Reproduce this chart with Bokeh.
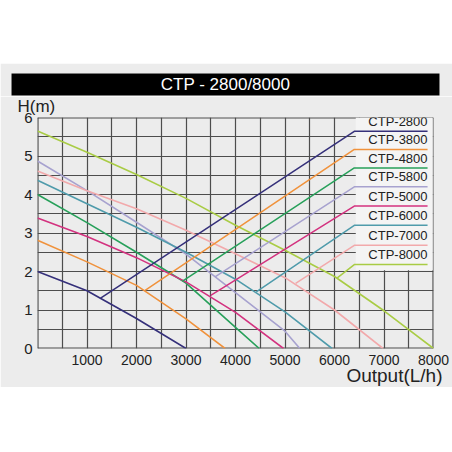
from bokeh.plotting import figure
from bokeh.models import Range1d, FixedTicker, Label, Spacer, Title, Span
from bokeh.layouts import column
from bokeh.embed import file_html
from bokeh.resources import INLINE
from bokeh.core.properties import value

# ---------------- data ----------------
TITLE = "CTP - 2800/8000"
Y_TITLE = "H(m)"
X_TITLE = "Output(L/h)"

series_names = ["CTP-2800", "CTP-3800", "CTP-4800", "CTP-5800",
                "CTP-5000", "CTP-6000", "CTP-7000", "CTP-8000"]
series_colors = ["#35307a", "#f0923c", "#27a05a", "#a7a2cf",
                 "#d3327f", "#4f9bab", "#f2a9ab", "#a9cc45"]

ctp2800_flow = [0, 1000, 2000, 3000]
ctp2800_head = [2.00, 1.50, 0.78, 0.00]
ctp3800_flow = [0, 1000, 2000, 3000, 3790]
ctp3800_head = [2.81, 2.25, 1.64, 0.77, 0.00]
ctp4800_flow = [0, 1000, 2000, 3000, 4000, 4480]
ctp4800_head = [4.00, 3.27, 2.50, 1.70, 0.55, 0.00]
ctp5800_flow = [0, 1000, 2000, 3000, 4000, 5000, 5300]
ctp5800_head = [4.87, 4.10, 3.28, 2.45, 1.45, 0.45, 0.00]
ctp5000_flow = [0, 1000, 2000, 3000, 4000, 4970]
ctp5000_head = [3.39, 2.91, 2.36, 1.73, 0.94, 0.00]
ctp6000_flow = [0, 1000, 2000, 3000, 4000, 5000, 5950]
ctp6000_head = [4.37, 3.76, 3.15, 2.50, 1.80, 0.95, 0.00]
ctp7000_flow = [0, 1000, 2000, 3000, 4000, 5000, 6000, 6980]
ctp7000_head = [4.61, 4.10, 3.63, 3.07, 2.46, 1.84, 1.00, 0.00]
ctp8000_flow = [0, 1000, 2000, 3000, 4000, 5000, 6000, 7000, 8000]
ctp8000_head = [5.65, 5.10, 4.52, 3.90, 3.20, 2.55, 1.87, 0.98, 0.00]

series_flows = [ctp2800_flow, ctp3800_flow, ctp4800_flow, ctp5800_flow,
                ctp5000_flow, ctp6000_flow, ctp7000_flow, ctp8000_flow]
series_heads = [ctp2800_head, ctp3800_head, ctp4800_head, ctp5800_head,
                ctp5000_head, ctp6000_head, ctp7000_head, ctp8000_head]

# leader lines: point on the curve -> label underline
leader_start_flow = [1275, 2174, 2930, 3586, 3500, 4420, 5215, 6050]
leader_start_head = [1.31, 1.51, 1.75, 1.86, 1.38, 1.47, 1.69, 1.83]
label_head = [5.64, 5.17, 4.69, 4.20, 3.70, 3.20, 2.68, 2.18]

x_tick_values = [1000, 2000, 3000, 4000, 5000, 6000, 7000, 8000]
y_tick_values = [0, 1, 2, 3, 4, 5, 6]
x_grid_step = 500
y_grid_step = 0.5

# ---------------- layout / style constants ----------------
BG = "#ececec"
LEGEND_BG = "#f4f4f4"
GRID = "#4d4d4d"
TEXT = "#222222"
FONT = "Liberation Sans"
X_MAX, Y_MAX = 8000, 6
LEADER_X = 6400       # where leader lines reach the legend
LABEL_RIGHT = 7880    # right end of legend underlines
LEGEND_LEFT, LEGEND_RIGHT, LEGEND_BOTTOM = 6430, 7985, 2.03

# ---------------- title bar ----------------
t = figure(width=452, height=33, x_range=Range1d(0, 1), y_range=Range1d(0, 1),
           output_backend="svg", toolbar_location=None,
           x_axis_location=None, y_axis_location=None,
           min_border_left=11, min_border_right=13, min_border_top=10, min_border_bottom=1,
           background_fill_color="black", border_fill_color=BG, outline_line_color=None)
t.frame_align = False
t.grid.visible = False
t.add_layout(Label(x=0.5, y=0.5, text=TITLE, text_align="center", text_baseline="middle",
                   text_color="white", text_font=FONT, text_font_size="17px"))

# ---------------- main chart ----------------
p = figure(width=452, height=291, x_range=Range1d(0, X_MAX), y_range=Range1d(0, Y_MAX),
           output_backend="svg", toolbar_location=None,
           min_border_left=37, min_border_right=19, min_border_top=19, min_border_bottom=39,
           background_fill_color=BG, border_fill_color=BG, outline_line_color=None)
p.frame_align = False

p.xaxis.ticker = FixedTicker(ticks=x_tick_values)
p.yaxis.ticker = FixedTicker(ticks=y_tick_values)
p.xgrid.ticker = FixedTicker(ticks=[i * x_grid_step for i in range(int(X_MAX / x_grid_step) + 1)])
p.ygrid.ticker = FixedTicker(ticks=[i * y_grid_step for i in range(int(Y_MAX / y_grid_step) + 1)])
for g in (p.xgrid, p.ygrid):
    g.grid_line_color = GRID
    g.grid_line_width = 1.2

# frame edges (grid skips the range ends)
for loc, dim in ((0, "height"), (X_MAX, "height"), (0, "width"), (Y_MAX, "width")):
    p.add_layout(Span(location=loc, dimension=dim, line_color=GRID, line_width=2.2, level="underlay"))

for ax in (p.xaxis, p.yaxis):
    ax.axis_line_color = None
    ax.major_tick_line_color = None
    ax.minor_tick_line_color = None
    ax.major_tick_out = 0
    ax.major_tick_in = 0
    ax.major_label_text_color = TEXT
    ax.major_label_text_font = FONT
p.xaxis.major_label_text_font_size = "14px"
p.xaxis.major_label_standoff = 6
p.yaxis.major_label_text_font_size = "15px"
p.yaxis.major_label_standoff = 5

# x-axis title, right aligned under the tick labels
p.add_layout(Title(text=X_TITLE, align="right", offset=-9, standoff=-6,
                   text_font=FONT, text_font_size="19px", text_font_style="normal",
                   text_color=TEXT, vertical_align="top", text_baseline="top"), "below")

# y-axis title above the frame, at the left
p.add_layout(Title(text=Y_TITLE, align="left", offset=-20, standoff=0,
                   text_font=FONT, text_font_size="17px", text_font_style="normal",
                   text_color=TEXT, vertical_align="top", text_baseline="top"), "above")

# legend panel covering the grid
p.quad(left=[LEGEND_LEFT], right=[LEGEND_RIGHT], bottom=[LEGEND_BOTTOM], top=[Y_MAX],
       fill_color=LEGEND_BG, line_color=None)

# pump curves
for fl, hd, col in zip(series_flows, series_heads, series_colors):
    p.line(fl, hd, line_color=col, line_width=1.6)

# leader lines + underlines
xs = [[x0, LEADER_X, LABEL_RIGHT] for x0 in leader_start_flow]
ys = [[y0, yl, yl] for y0, yl in zip(leader_start_head, label_head)]
p.multi_line(xs, ys, line_color=series_colors, line_width=1.5)

# legend labels
p.text(x=[LABEL_RIGHT] * len(series_names), y=[h + 0.06 for h in label_head], text=series_names,
       text_align="right", text_baseline="bottom", text_color=TEXT,
       text_font=value(FONT), text_font_size="13px")

layout = column(Spacer(width=452, height=63), t, p)
open("out.html", "w").write(file_html(layout, INLINE))
